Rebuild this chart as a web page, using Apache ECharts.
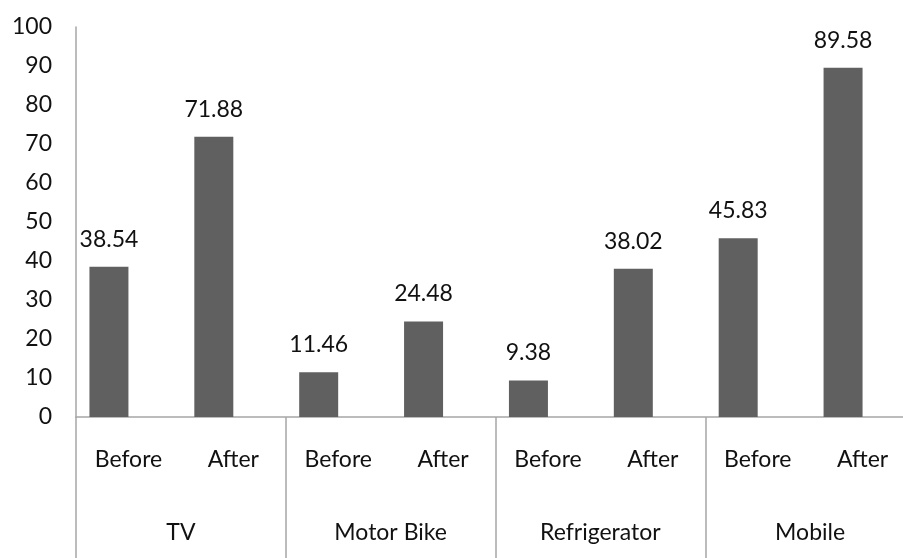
<!DOCTYPE html>
<html>
<head>
<meta charset="utf-8">
<script src="https://cdn.jsdelivr.net/npm/echarts@6/dist/echarts.min.js"></script>
<style>
  html, body { margin: 0; padding: 0; background: #fff; }
  #chart { width: 903px; height: 558px; }
</style>
</head>
<body>
<div id="chart"></div>
<script>
const phases = ["Before", "After", "Before", "After", "Before", "After", "Before", "After"];
const groups = ["TV", "Motor Bike", "Refrigerator", "Mobile"];
const values = [38.54, 71.88, 11.46, 24.48, 9.38, 38.02, 45.83, 89.58];

const font = "Lato";
const axisGray = "#a6a6a6";

const chart = echarts.init(document.getElementById("chart"));

chart.setOption({
  animation: false,
  grid: { left: 76, top: 27, width: 839, bottom: 141, containLabel: false, outerBoundsMode: "none" },
  xAxis: [
    {
      type: "category",
      data: phases,
      axisLine: { lineStyle: { color: axisGray, width: 1.5 } },
      axisTick: { show: false },
      axisLabel: { fontFamily: font, fontSize: 23, color: "#111", margin: 31, interval: 0 },
    },
    {
      type: "category",
      data: groups,
      position: "bottom",
      axisLine: { show: false },
      axisTick: { show: true, interval: 0, length: 145, lineStyle: { color: axisGray, width: 1.5 } },
      axisLabel: { fontFamily: font, fontSize: 23, color: "#111", margin: 104, interval: 0 },
    },
  ],
  yAxis: {
    type: "value",
    min: 0,
    max: 100,
    interval: 10,
    splitLine: { show: false },
    axisLine: { show: true, lineStyle: { color: axisGray, width: 1.5 } },
    axisTick: { show: false },
    axisLabel: { fontFamily: font, fontSize: 23, color: "#111", margin: 24 },
  },
  series: [
    {
      type: "bar",
      data: values,
      barWidth: 39,
      barGap: "0%",
      itemStyle: { color: "#606060" },
      label: {
        show: true,
        position: "top",
        distance: 16,
        fontFamily: font,
        fontSize: 23,
        color: "#111",
        formatter: (p) => p.value.toFixed(2),
      },
    },
    {
      // empty second series, as in the source chart, shifts the bars left
      type: "bar",
      data: [],
      barWidth: 39,
    },
  ],
});
</script>
</body>
</html>
